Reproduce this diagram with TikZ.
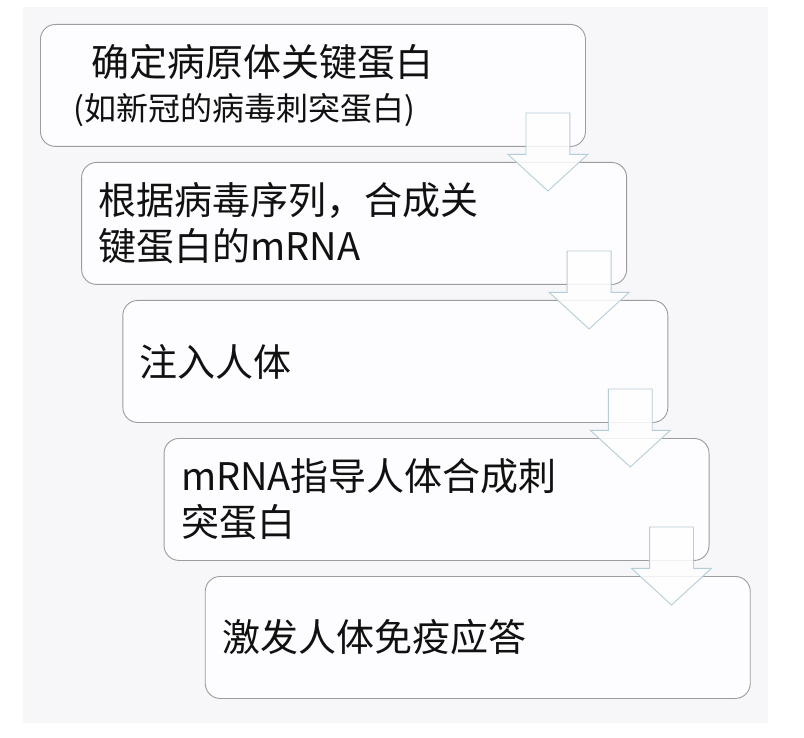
\documentclass[tikz,border=0pt]{standalone}
\usepackage{fontspec}
\setmainfont{Noto Sans CJK SC}
\usepackage{tikz}
\usetikzlibrary{shapes, arrows, calc, positioning}
\usetikzlibrary{arrows.meta}

\definecolor{panelgray}{HTML}{F7F6F9}
\definecolor{boxfill}{HTML}{FDFCFE}
\definecolor{boxline}{HTML}{9C9C9C}
\definecolor{arrowline}{HTML}{B5CDD8}
\definecolor{inkblack}{HTML}{111111}

\begin{document}
\begin{tikzpicture}[
  x=1pt, y=-1pt,
  every node/.style={text=inkblack},
  stepbox/.style={rectangle, draw=boxline, line width=0.9pt, fill=boxfill, rounded corners=15pt,
    anchor=north west, minimum width=545pt, minimum height=122pt, inner xsep=17pt,
    text width=511pt, align=left, font=\fontsize{38}{46}\selectfont},
  downarrow/.style={single arrow, draw=arrowline, line width=0.9pt, fill=white, fill opacity=0.85,
    draw opacity=1, rotate=-90, minimum height=78pt, inner xsep=0pt, inner ysep=21.5pt,
    single arrow head extend=18pt, single arrow tip angle=95}
]

% page and grey panel
\fill[white] (0,0) rectangle (804,738);
\useasboundingbox (0,0) rectangle (804,738);
\fill[panelgray] (23,7) rectangle (768,723);

% steps
\node[stepbox, inner xsep=33pt, text width=479pt] (box1) at (40,24)
  {\hspace*{18pt}确定病原体关键蛋白\\[-2pt]{\fontsize{32}{44}\selectfont (如新冠的病毒刺突蛋白)}};
\node[stepbox] (box2) at (81.2,162) {根据病毒序列，合成关\\键蛋白的mRNA};
\node[stepbox] (box3) at (122.4,300) {注入人体};
\node[stepbox] (box4) at (163.6,438) {mRNA指导人体合成刺\\突蛋白};
\node[stepbox] (box5) at (204.8,576) {激发人体免疫应答};

% arrows between steps
\foreach \i in {1,...,4}
  \node[downarrow] (arrow\i) at ($(box\i.south east)+(-38,-5)$) {};

\end{tikzpicture}
\end{document}
